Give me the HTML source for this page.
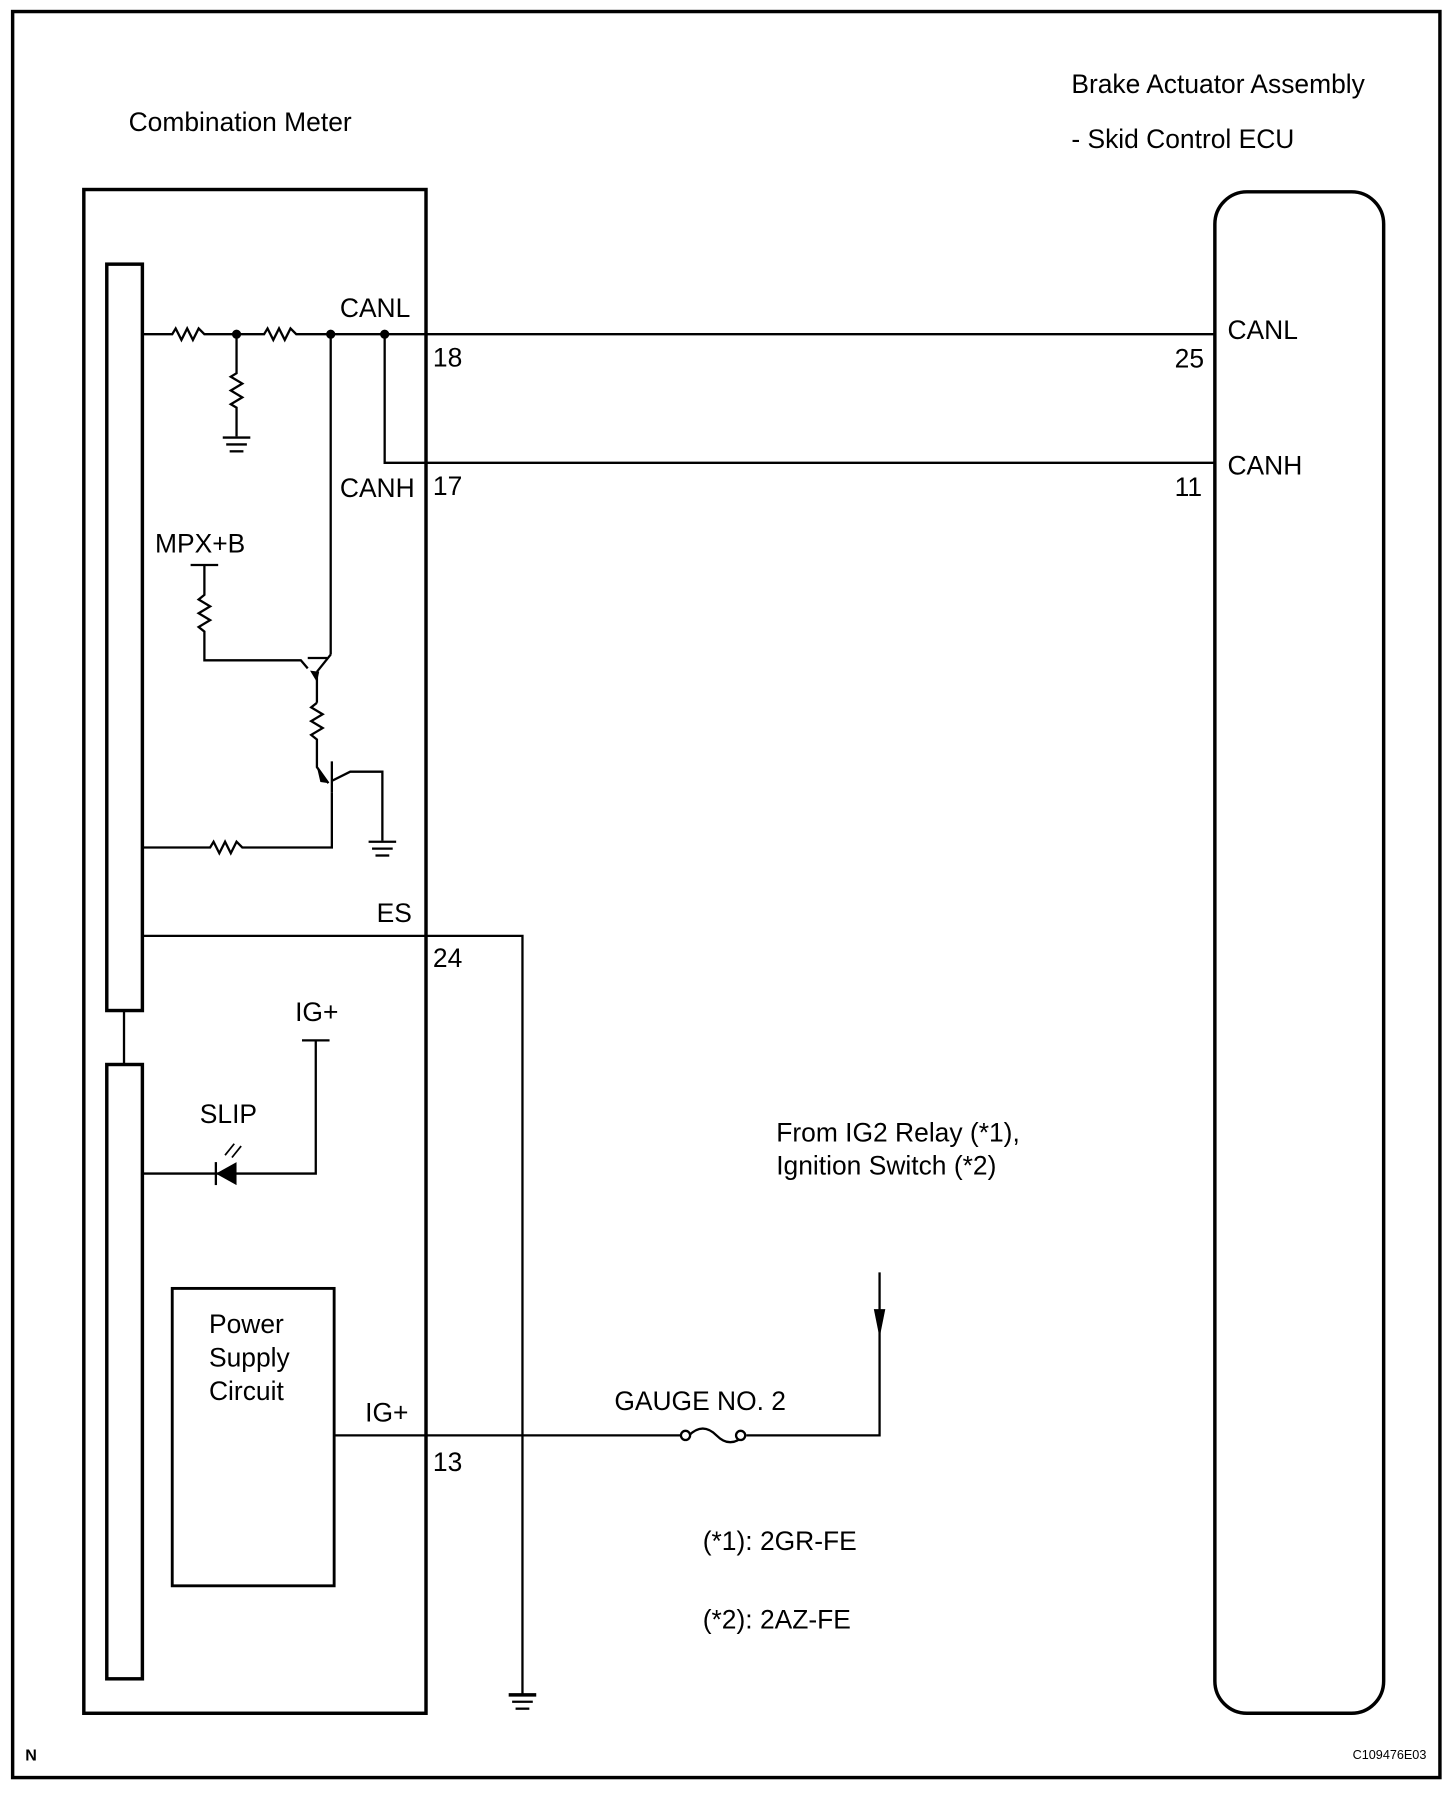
<!DOCTYPE html>
<html><head><meta charset="utf-8"><style>
html,body{margin:0;padding:0;background:#fff;}
svg{display:block;}
text{font-family:"Liberation Sans",Arial,sans-serif;font-size:23px;fill:#000;}
</style></head><body>
<svg width="1456" height="1796" viewBox="0 0 1268 1564" xmlns="http://www.w3.org/2000/svg">
<g fill="none" stroke="#000" stroke-width="2">
<rect x="11" y="10" width="1243" height="1538" stroke-width="3"/>
<rect x="73" y="165" width="298" height="1327" stroke-width="3"/>
<rect x="93" y="230" width="31" height="650" stroke-width="3"/>
<rect x="93" y="927" width="31" height="535" stroke-width="3"/>
<line x1="108" y1="880" x2="108" y2="927"/>
<rect x="1058" y="167" width="147" height="1325" rx="28" stroke-width="3"/>
<rect x="150" y="1122" width="141" height="259" stroke-width="2.5"/>
<polyline points="124,291 150,291 153,286 158,296 163,286 168,296 173,286 178,291 230,291 233,286 238,296 243,286 248,296 253,286 258,291 1058,291"/>
<polyline points="206,291 206,325 201,328 211,334 201,340 211,346 201,352 206,355 206,380"/>
<line x1="194" y1="381" x2="218" y2="381"/><line x1="197" y1="387" x2="215" y2="387"/><line x1="200" y1="393" x2="212" y2="393"/>
<polyline points="335,291 335,403 1058,403"/>
<line x1="288" y1="291" x2="288" y2="570"/>
<line x1="288" y1="570" x2="276" y2="585"/>
<line x1="166" y1="492" x2="190" y2="492"/>
<polyline points="178,492 178,518 173,522 183,528 173,534 183,540 173,546 178,550 178,575 262,575 268,582"/>
<line x1="268" y1="573" x2="285" y2="573"/>
<line x1="276" y1="585" x2="276" y2="612"/>
<polyline points="276,612 271,616 281,622 271,628 281,634 271,640 276,644 276,668 286,682"/>
<line x1="289" y1="663" x2="289" y2="690"/>
<polyline points="289,680 305,672 333,672 333,732"/>
<line x1="321" y1="733" x2="345" y2="733"/><line x1="324" y1="739" x2="342" y2="739"/><line x1="327" y1="745" x2="339" y2="745"/>
<polyline points="124,738 183,738 186,733 191,743 196,733 201,743 206,733 211,738 289,738 289,690"/>
<polyline points="124,815 455,815 455,1475"/>
<line x1="443" y1="1476" x2="467" y2="1476" stroke-width="3"/><line x1="446" y1="1482" x2="464" y2="1482"/><line x1="449" y1="1488" x2="461" y2="1488"/>
<line x1="263" y1="906" x2="287" y2="906"/>
<polyline points="275,906 275,1022 124,1022"/>
<line x1="188" y1="1012" x2="188" y2="1032"/>
<polyline points="291,1250 595,1250"/>
<path d="M600,1250 q12,-12 24,0 q12,12 24,0" />
<polyline points="650,1250 766,1250 766,1108"/>
</g>
<circle cx="206" cy="291" r="4"/><circle cx="288" cy="291" r="4"/><circle cx="335" cy="291" r="4"/>
<circle cx="597" cy="1250" r="4" fill="#fff" stroke="#000" stroke-width="2"/>
<circle cx="645" cy="1250" r="4" fill="#fff" stroke="#000" stroke-width="2"/>
<polygon points="188,1022 206,1012 206,1032"/>
<polygon points="761,1140 771,1140 766,1165"/>
<polygon points="278,585 270,584 276,594"/>
<polygon points="276,668 281,676 286,682 279,681"/>
<g stroke="#000" stroke-width="1.5"><line x1="196" y1="1006" x2="204" y2="996"/><line x1="202" y1="1008" x2="210" y2="998"/></g>
<text x="112" y="114">Combination Meter</text>
<text x="933" y="81">Brake Actuator Assembly</text>
<text x="933" y="129">- Skid Control ECU</text>
<text x="296" y="276">CANL</text>
<text x="377" y="319">18</text>
<text x="296" y="433">CANH</text>
<text x="377" y="431">17</text>
<text x="1069" y="295">CANL</text>
<text x="1023" y="320">25</text>
<text x="1069" y="413">CANH</text>
<text x="1023" y="432">11</text>
<text x="135" y="481">MPX+B</text>
<text x="328" y="803">ES</text>
<text x="377" y="842">24</text>
<text x="257" y="889">IG+</text>
<text x="174" y="978">SLIP</text>
<text x="676" y="994">From IG2 Relay (*1),</text>
<text x="676" y="1023">Ignition Switch (*2)</text>
<text x="182" y="1161">Power</text>
<text x="182" y="1190">Supply</text>
<text x="182" y="1219">Circuit</text>
<text x="318" y="1238">IG+</text>
<text x="377" y="1281">13</text>
<text x="535" y="1228">GAUGE NO. 2</text>
<text x="612" y="1350">(*1): 2GR-FE</text>
<text x="612" y="1418">(*2): 2AZ-FE</text>
<text x="22" y="1533" style="font-size:14px;font-weight:bold">N</text>
<text x="1178" y="1532" style="font-size:11px">C109476E03</text>
</svg>
</body></html>
